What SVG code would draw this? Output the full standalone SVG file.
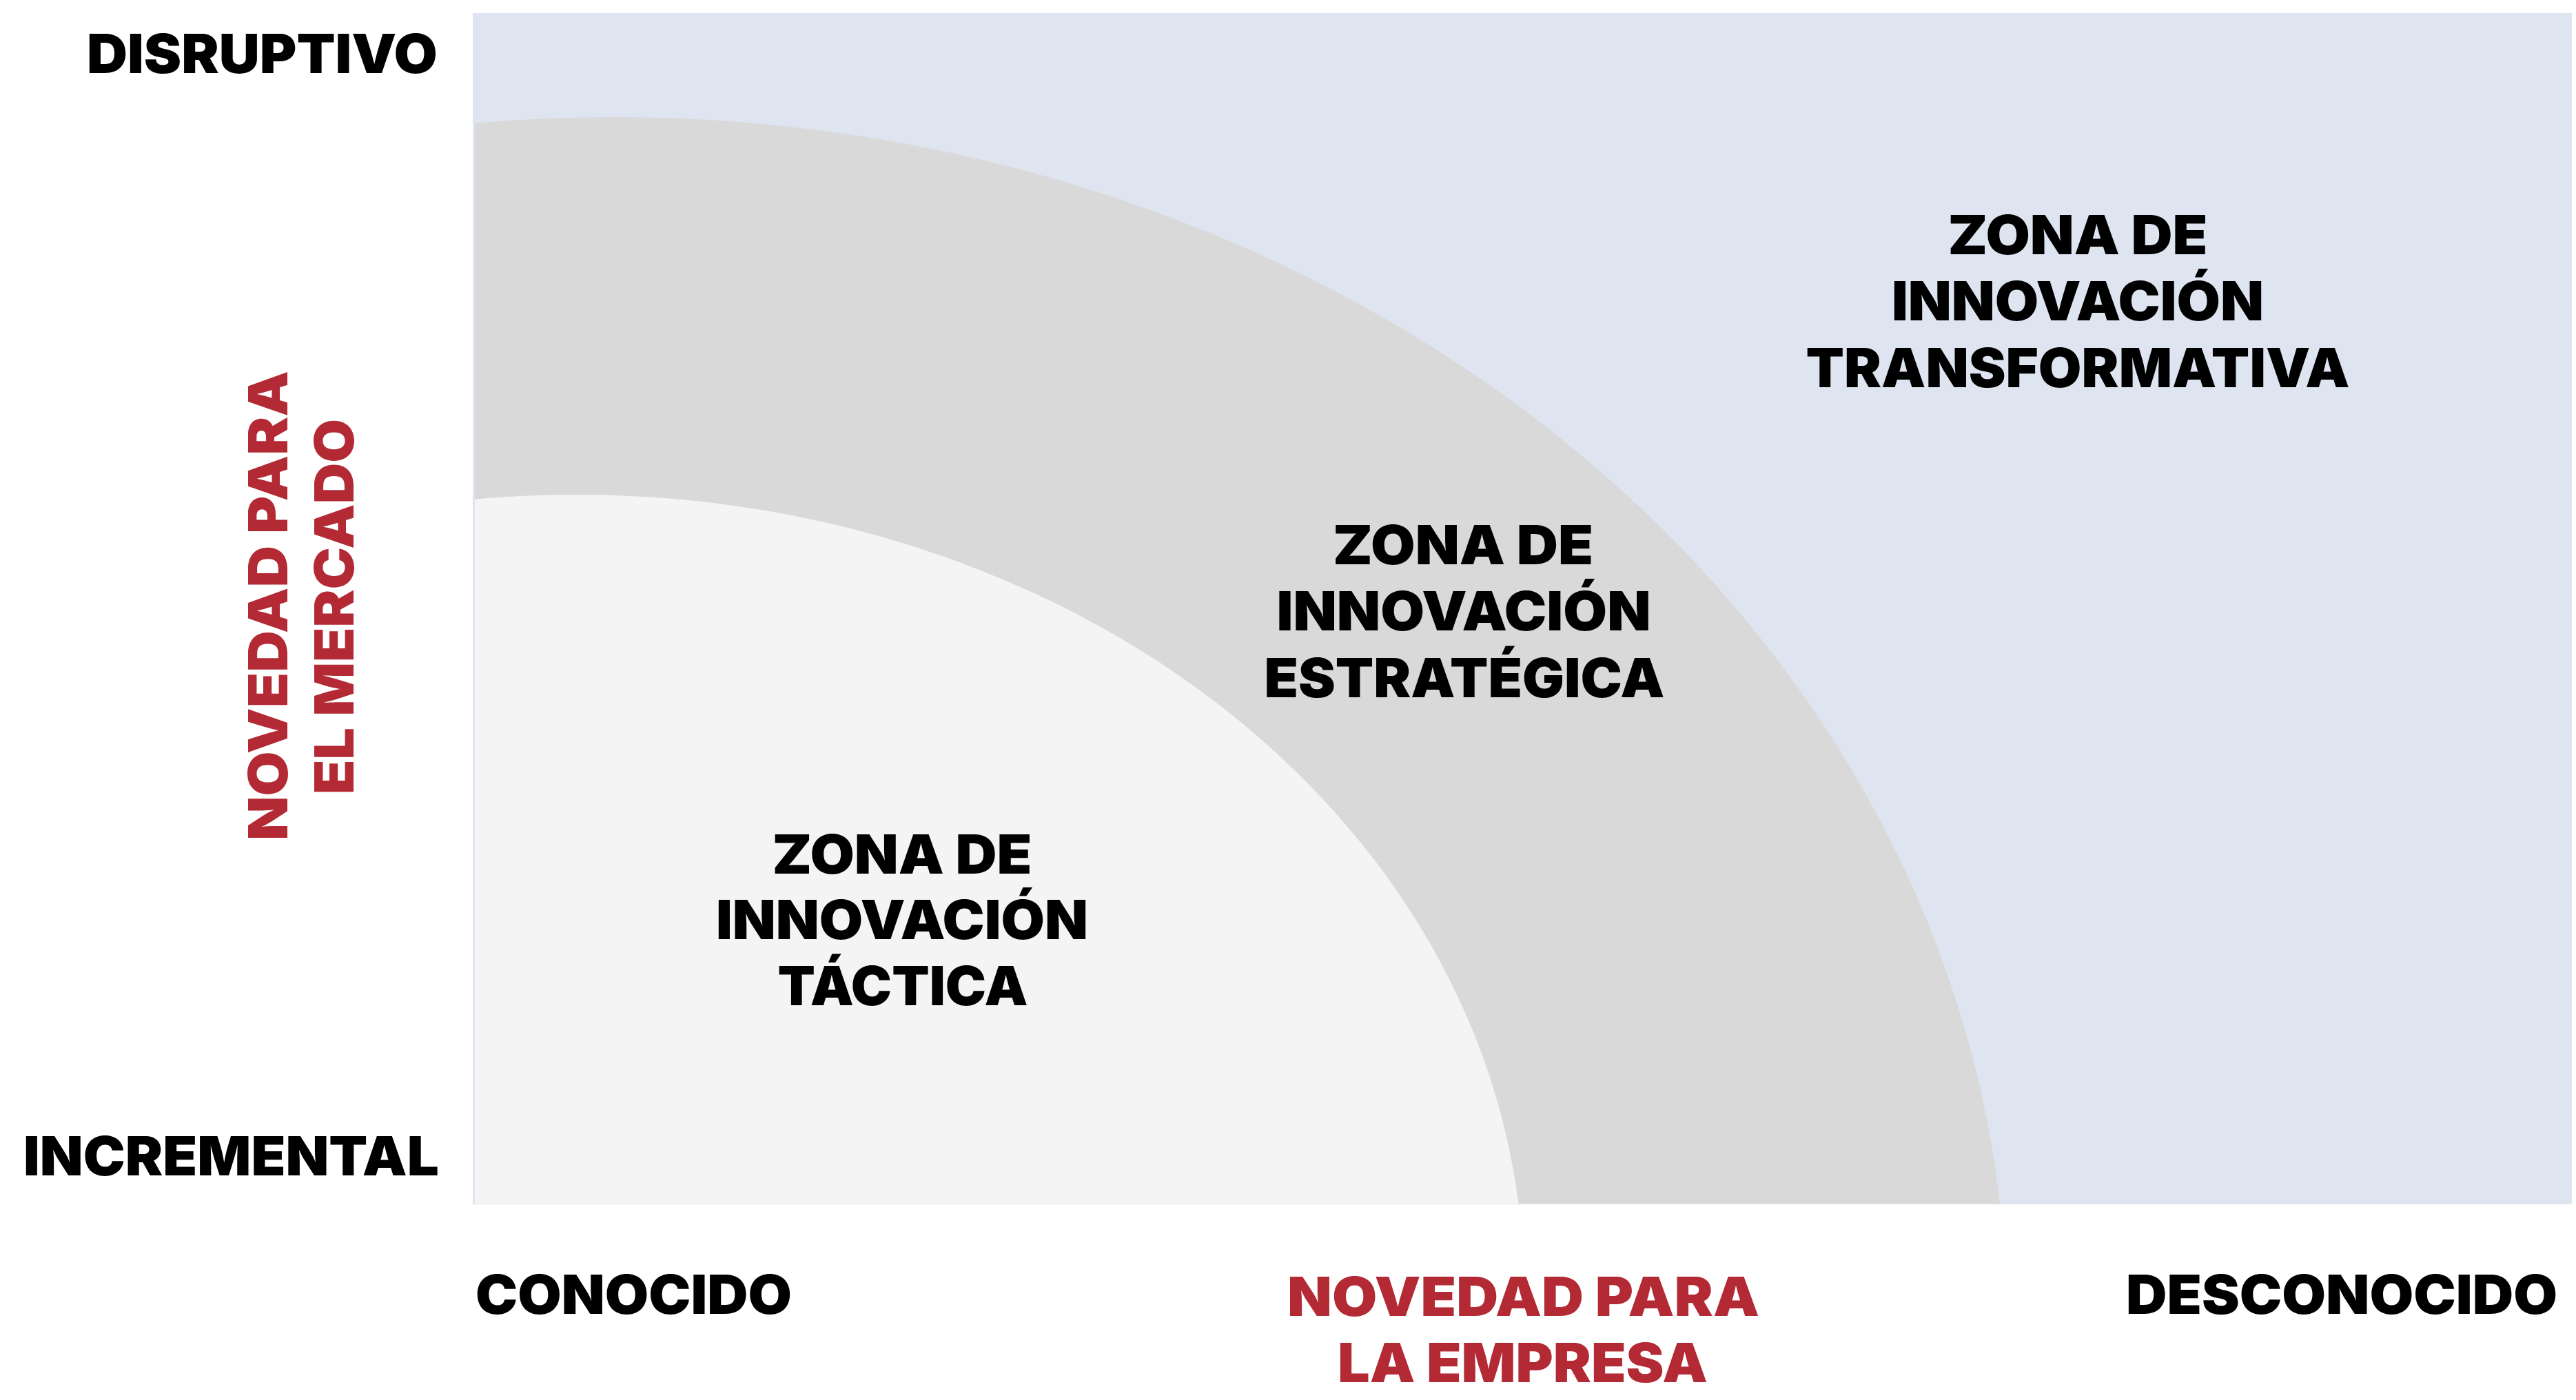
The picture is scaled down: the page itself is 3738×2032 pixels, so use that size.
<svg xmlns="http://www.w3.org/2000/svg" width="3738" height="2032" viewBox="0 0 3738 2032">
  <style>
    .lbl { font-family: Inter, "Liberation Sans", Arial, sans-serif; font-weight: 900; font-size: 78px; text-anchor: middle; }
    .blk { fill: #000000; }
    .red { fill: #B32A35; }
  </style>
  <defs>
    <clipPath id="plot">
      <rect x="689" y="19" width="3043" height="1728"/>
    </clipPath>
  </defs>
  <rect width="3738" height="2032" fill="#FFFFFF"/>
  <g id="zone-transformativa-bg">
    <rect x="686" y="19" width="3046" height="1728" fill="#DEE5F1"/>
  </g>
  <g id="zone-estrategica-bg" clip-path="url(#plot)">
    <ellipse cx="892" cy="1920" rx="2020" ry="1750" fill="#D9D9D9"/>
  </g>
  <g id="zone-tactica-bg" clip-path="url(#plot)">
    <ellipse cx="837" cy="1868" rx="1374" ry="1150" fill="#F4F4F4"/>
  </g>
  <g id="baseline-edge">
    <line x1="686" y1="1747.5" x2="3732" y2="1747.5" stroke="#E2E2E2" stroke-width="1"/>
  </g>

  <g id="axis-y-labels">
    <text class="lbl blk" x="380.5" y="106" textLength="509" lengthAdjust="spacingAndGlyphs">DISRUPTIVO</text>
    <text class="lbl blk" x="335.5" y="1706" textLength="603" lengthAdjust="spacingAndGlyphs">INCREMENTAL</text>
  </g>
  <g id="axis-y-title">
    <text class="lbl red" transform="translate(417,879) rotate(-90)" x="0" y="0" textLength="682" lengthAdjust="spacingAndGlyphs">NOVEDAD PARA</text>
    <text class="lbl red" transform="translate(513,880.5) rotate(-90)" x="0" y="0" textLength="545" lengthAdjust="spacingAndGlyphs">EL MERCADO</text>
  </g>
  <g id="axis-x-labels">
    <text class="lbl blk" x="919.5" y="1907" textLength="459" lengthAdjust="spacingAndGlyphs">CONOCIDO</text>
    <text class="lbl blk" x="3398" y="1907" textLength="626" lengthAdjust="spacingAndGlyphs">DESCONOCIDO</text>
  </g>
  <g id="axis-x-title">
    <text class="lbl red" x="2210.5" y="1910" textLength="685" lengthAdjust="spacingAndGlyphs">NOVEDAD PARA</text>
    <text class="lbl red" x="2209.5" y="2006" textLength="537" lengthAdjust="spacingAndGlyphs">LA EMPRESA</text>
  </g>

  <g id="label-transformativa">
    <text class="lbl blk" x="3015" y="369" textLength="377" lengthAdjust="spacingAndGlyphs">ZONA DE</text>
    <text class="lbl blk" x="3015" y="465" textLength="540" lengthAdjust="spacingAndGlyphs">INNOVACIÓN</text>
    <text class="lbl blk" x="3015" y="562" textLength="789" lengthAdjust="spacingAndGlyphs">TRANSFORMATIVA</text>
  </g>
  <g id="label-estrategica">
    <text class="lbl blk" x="2123" y="819" textLength="378" lengthAdjust="spacingAndGlyphs">ZONA DE</text>
    <text class="lbl blk" x="2124" y="915" textLength="543" lengthAdjust="spacingAndGlyphs">INNOVACIÓN</text>
    <text class="lbl blk" x="2125" y="1012" textLength="581" lengthAdjust="spacingAndGlyphs">ESTRATÉGICA</text>
  </g>
  <g id="label-tactica">
    <text class="lbl blk" x="1309" y="1268" textLength="377" lengthAdjust="spacingAndGlyphs">ZONA DE</text>
    <text class="lbl blk" x="1309" y="1363" textLength="540" lengthAdjust="spacingAndGlyphs">INNOVACIÓN</text>
    <text class="lbl blk" x="1310" y="1459" textLength="363" lengthAdjust="spacingAndGlyphs">TÁCTICA</text>
  </g>
  <g id="connectors"></g>
</svg>
